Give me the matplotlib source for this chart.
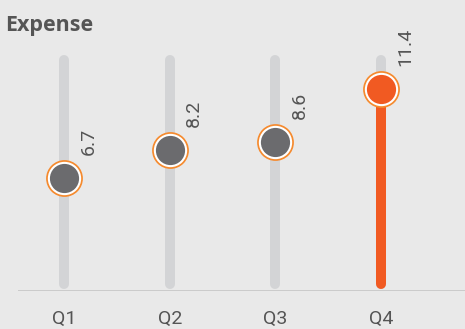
import matplotlib
matplotlib.use("Agg")
from matplotlib import pyplot as plt

quarters = ["Q1", "Q2", "Q3", "Q4"]
expense = [6.7, 8.2, 8.6, 11.4]
highlight = "Q4"

BG = "#e9e9e9"
TRACK = "#d3d4d6"
ORANGE = "#f15a22"
RING = "#f58a2e"
DOT = "#6b6b6e"
TEXT = "#555555"

plt.rcParams["font.family"] = ["Roboto", "DejaVu Sans"]

fig = plt.figure(figsize=(4.65, 3.29), dpi=100, facecolor=BG)
ax = fig.add_axes([0.0387, 0.1155, 0.9613, 0.7173], facecolor=BG)

x = list(range(len(quarters)))
ax.set_xlim(-0.44, 3.796)
ax.set_ylim(0.73, 13.2)
ylo, yhi = ax.get_ylim()
track_lo = ylo + 0.03 * (yhi - ylo)
track_hi = ylo + 0.979 * (yhi - ylo)

for xi, q, v in zip(x, quarters, expense):
    ax.plot([xi, xi], [track_lo, track_hi], color=TRACK, lw=7.2,
            solid_capstyle="round", zorder=1)
    hot = q == highlight
    if hot:
        ax.plot([xi, xi], [track_lo, v], color=ORANGE, lw=7.2,
                solid_capstyle="round", zorder=2)
    ax.scatter([xi], [v], s=26.5 ** 2, color=RING, zorder=3, lw=0)
    ax.scatter([xi], [v], s=24 ** 2, color="white", zorder=4, lw=0)
    ax.scatter([xi], [v], s=21 ** 2, color=ORANGE if hot else DOT,
               zorder=5, lw=0)
    ax.annotate(f"{v}", (xi, v), xytext=(17.5, 16.5),
                textcoords="offset points", rotation=90, ha="center",
                va="bottom", fontsize=14, color=TEXT)

ax.axhline(ylo, color="#c6c6c6", lw=1.2, zorder=0)
ax.set_xticks(x)
ax.set_xticklabels(quarters, fontsize=14, color=TEXT)
ax.tick_params(axis="x", length=0, pad=13.5)
ax.set_yticks([])
for s in ax.spines.values():
    s.set_visible(False)

fig.text(5 / 465, 0.906, "Expense", fontsize=15.5, fontweight="bold",
         color="#555555", va="baseline", ha="left",
         family=["Open Sans", "DejaVu Sans"])

fig.savefig("out.png", dpi=100, facecolor=BG)
